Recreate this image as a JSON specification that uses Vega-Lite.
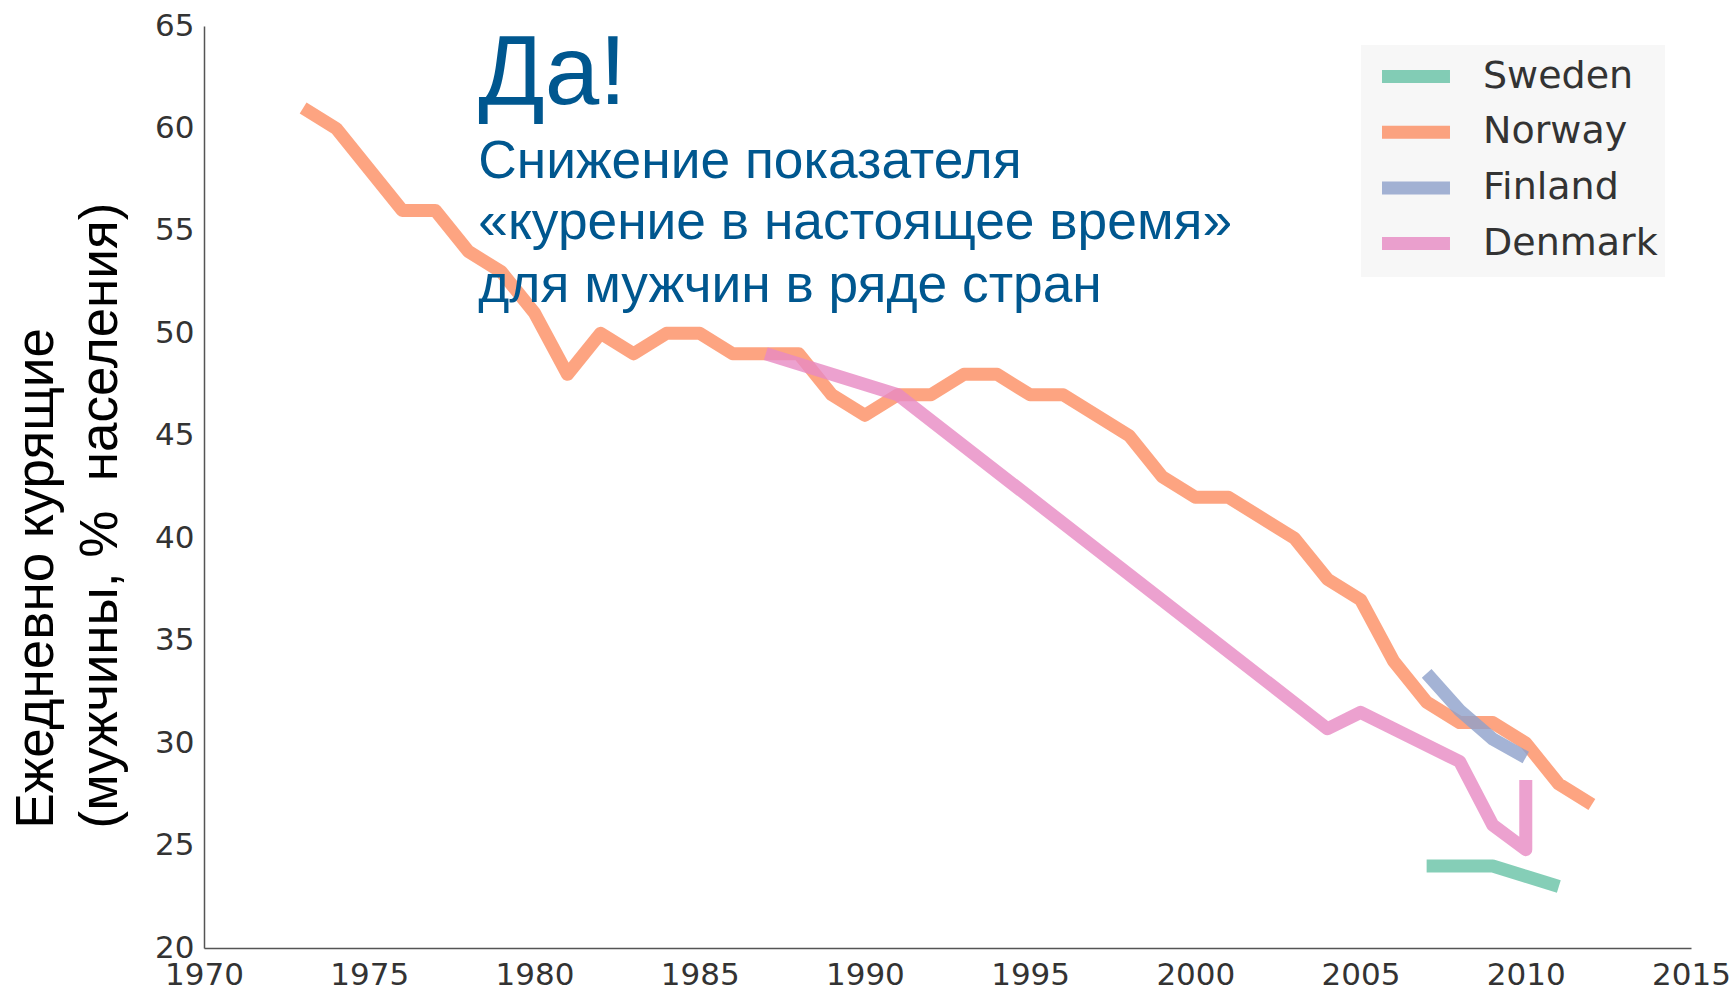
{
  "$schema": "https://vega.github.io/schema/vega-lite/v6.json",
  "width": 1487,
  "height": 922,
  "autosize": {"type": "none"},
  "padding": {"left": 204, "top": 26, "right": 42, "bottom": 43},
  "background": "white",
  "config": {
    "view": {"stroke": null},
    "axis": {
      "grid": false,
      "ticks": false,
      "domain": true,
      "domainColor": "#555555",
      "domainWidth": 1.5,
      "labelFont": "DejaVu Sans",
      "labelFontSize": 31,
      "labelColor": "#333333",
      "labelFlush": false,
      "labelOverlap": false,
      "labelBound": false
    }
  },
  "datasets": {
    "series": [
      {"country": "Norway", "year": 1973, "value": 61},
      {"country": "Norway", "year": 1974, "value": 60},
      {"country": "Norway", "year": 1975, "value": 58},
      {"country": "Norway", "year": 1976, "value": 56},
      {"country": "Norway", "year": 1977, "value": 56},
      {"country": "Norway", "year": 1978, "value": 54},
      {"country": "Norway", "year": 1979, "value": 53},
      {"country": "Norway", "year": 1980, "value": 51},
      {"country": "Norway", "year": 1981, "value": 48},
      {"country": "Norway", "year": 1982, "value": 50},
      {"country": "Norway", "year": 1983, "value": 49},
      {"country": "Norway", "year": 1984, "value": 50},
      {"country": "Norway", "year": 1985, "value": 50},
      {"country": "Norway", "year": 1986, "value": 49},
      {"country": "Norway", "year": 1987, "value": 49},
      {"country": "Norway", "year": 1988, "value": 49},
      {"country": "Norway", "year": 1989, "value": 47},
      {"country": "Norway", "year": 1990, "value": 46},
      {"country": "Norway", "year": 1991, "value": 47},
      {"country": "Norway", "year": 1992, "value": 47},
      {"country": "Norway", "year": 1993, "value": 48},
      {"country": "Norway", "year": 1994, "value": 48},
      {"country": "Norway", "year": 1995, "value": 47},
      {"country": "Norway", "year": 1996, "value": 47},
      {"country": "Norway", "year": 1997, "value": 46},
      {"country": "Norway", "year": 1998, "value": 45},
      {"country": "Norway", "year": 1999, "value": 43},
      {"country": "Norway", "year": 2000, "value": 42},
      {"country": "Norway", "year": 2001, "value": 42},
      {"country": "Norway", "year": 2002, "value": 41},
      {"country": "Norway", "year": 2003, "value": 40},
      {"country": "Norway", "year": 2004, "value": 38},
      {"country": "Norway", "year": 2005, "value": 37},
      {"country": "Norway", "year": 2006, "value": 34},
      {"country": "Norway", "year": 2007, "value": 32},
      {"country": "Norway", "year": 2008, "value": 31},
      {"country": "Norway", "year": 2009, "value": 31},
      {"country": "Norway", "year": 2010, "value": 30},
      {"country": "Norway", "year": 2011, "value": 28},
      {"country": "Norway", "year": 2012, "value": 27},
      {"country": "Denmark", "year": 1987, "value": 49},
      {"country": "Denmark", "year": 1991, "value": 47},
      {"country": "Denmark", "year": 2004, "value": 30.7},
      {"country": "Denmark", "year": 2005, "value": 31.5},
      {"country": "Denmark", "year": 2008, "value": 29.1},
      {"country": "Denmark", "year": 2009, "value": 26},
      {"country": "Denmark", "year": 2010, "value": 24.8},
      {"country": "Denmark", "year": 2010, "value": 28.2},
      {"country": "Finland", "year": 2007, "value": 33.4},
      {"country": "Finland", "year": 2008, "value": 31.6},
      {"country": "Finland", "year": 2009, "value": 30.2},
      {"country": "Finland", "year": 2010, "value": 29.3},
      {"country": "Sweden", "year": 2007, "value": 24},
      {"country": "Sweden", "year": 2008, "value": 24},
      {"country": "Sweden", "year": 2009, "value": 24},
      {"country": "Sweden", "year": 2010, "value": 23.5},
      {"country": "Sweden", "year": 2011, "value": 23}
    ],
    "headline": [
      {"text": "Да!", "year": 1978.3, "value": 61.2}
    ],
    "subtitle": [
      {"text": "Снижение показателя", "year": 1978.3, "value": 57.6},
      {"text": "«курение в настоящее время»", "year": 1978.3, "value": 54.6},
      {"text": "для мужчин в ряде стран", "year": 1978.3, "value": 51.55}
    ]
  },
  "layer": [
    {
      "data": {"name": "series"},
      "mark": {"type": "line", "strokeWidth": 13, "opacity": 0.8, "strokeCap": "butt", "strokeJoin": "round"},
      "encoding": {
        "x": {
          "field": "year", "type": "quantitative",
          "scale": {"domain": [1970, 2015], "nice": false, "zero": false},
          "axis": {"title": null, "values": [1970, 1975, 1980, 1985, 1990, 1995, 2000, 2005, 2010, 2015], "format": "d", "labelPadding": 12}
        },
        "y": {
          "field": "value", "type": "quantitative",
          "scale": {"domain": [20, 65], "nice": false, "zero": false},
          "axis": {
            "values": [20, 25, 30, 35, 40, 45, 50, 55, 60, 65],
            "labelPadding": 10,
            "title": ["Ежедневно курящие", "(мужчины, %\u00a0 населения)"],
            "titleFont": "Liberation Sans",
            "titleFontSize": 53,
            "titleFontWeight": "normal",
            "titleColor": "#000000",
            "titleAngle": -90,
            "titleAlign": "left",
            "titleBaseline": "alphabetic",
            "titleLineHeight": 64,
            "titleX": -152,
            "titleY": 802
          }
        },
        "color": {
          "field": "country", "type": "nominal",
          "scale": {"domain": ["Sweden", "Norway", "Finland", "Denmark"], "range": ["#66c2a5", "#fc8d62", "#8da0cb", "#e78ac3"]},
          "legend": {
            "title": null,
            "orient": "none",
            "legendX": 1157,
            "legendY": 19,
            "fillColor": "#f7f7f7",
            "padding": 7,
            "symbolType": "M-0.583,0L3.194,0",
            "symbolSize": 1296,
            "symbolStrokeWidth": 13,
            "symbolOpacity": 0.8,
            "labelFont": "DejaVu Sans",
            "labelFontSize": 38,
            "labelColor": "#333333",
            "labelLimit": 0,
            "labelOffset": 66,
            "rowPadding": 2.7
          }
        },
        "order": [{"field": "year", "type": "quantitative"}, {"field": "value", "type": "quantitative"}]
      }
    },
    {
      "data": {"name": "headline"},
      "mark": {"type": "text", "align": "left", "baseline": "alphabetic", "font": "Liberation Sans", "fontSize": 98, "color": "#00578f"},
      "encoding": {
        "x": {"field": "year", "type": "quantitative"},
        "y": {"field": "value", "type": "quantitative"},
        "text": {"field": "text"}
      }
    },
    {
      "data": {"name": "subtitle"},
      "mark": {"type": "text", "align": "left", "baseline": "alphabetic", "font": "Liberation Sans", "fontSize": 53.3, "color": "#00578f"},
      "encoding": {
        "x": {"field": "year", "type": "quantitative"},
        "y": {"field": "value", "type": "quantitative"},
        "text": {"field": "text"}
      }
    }
  ]
}
